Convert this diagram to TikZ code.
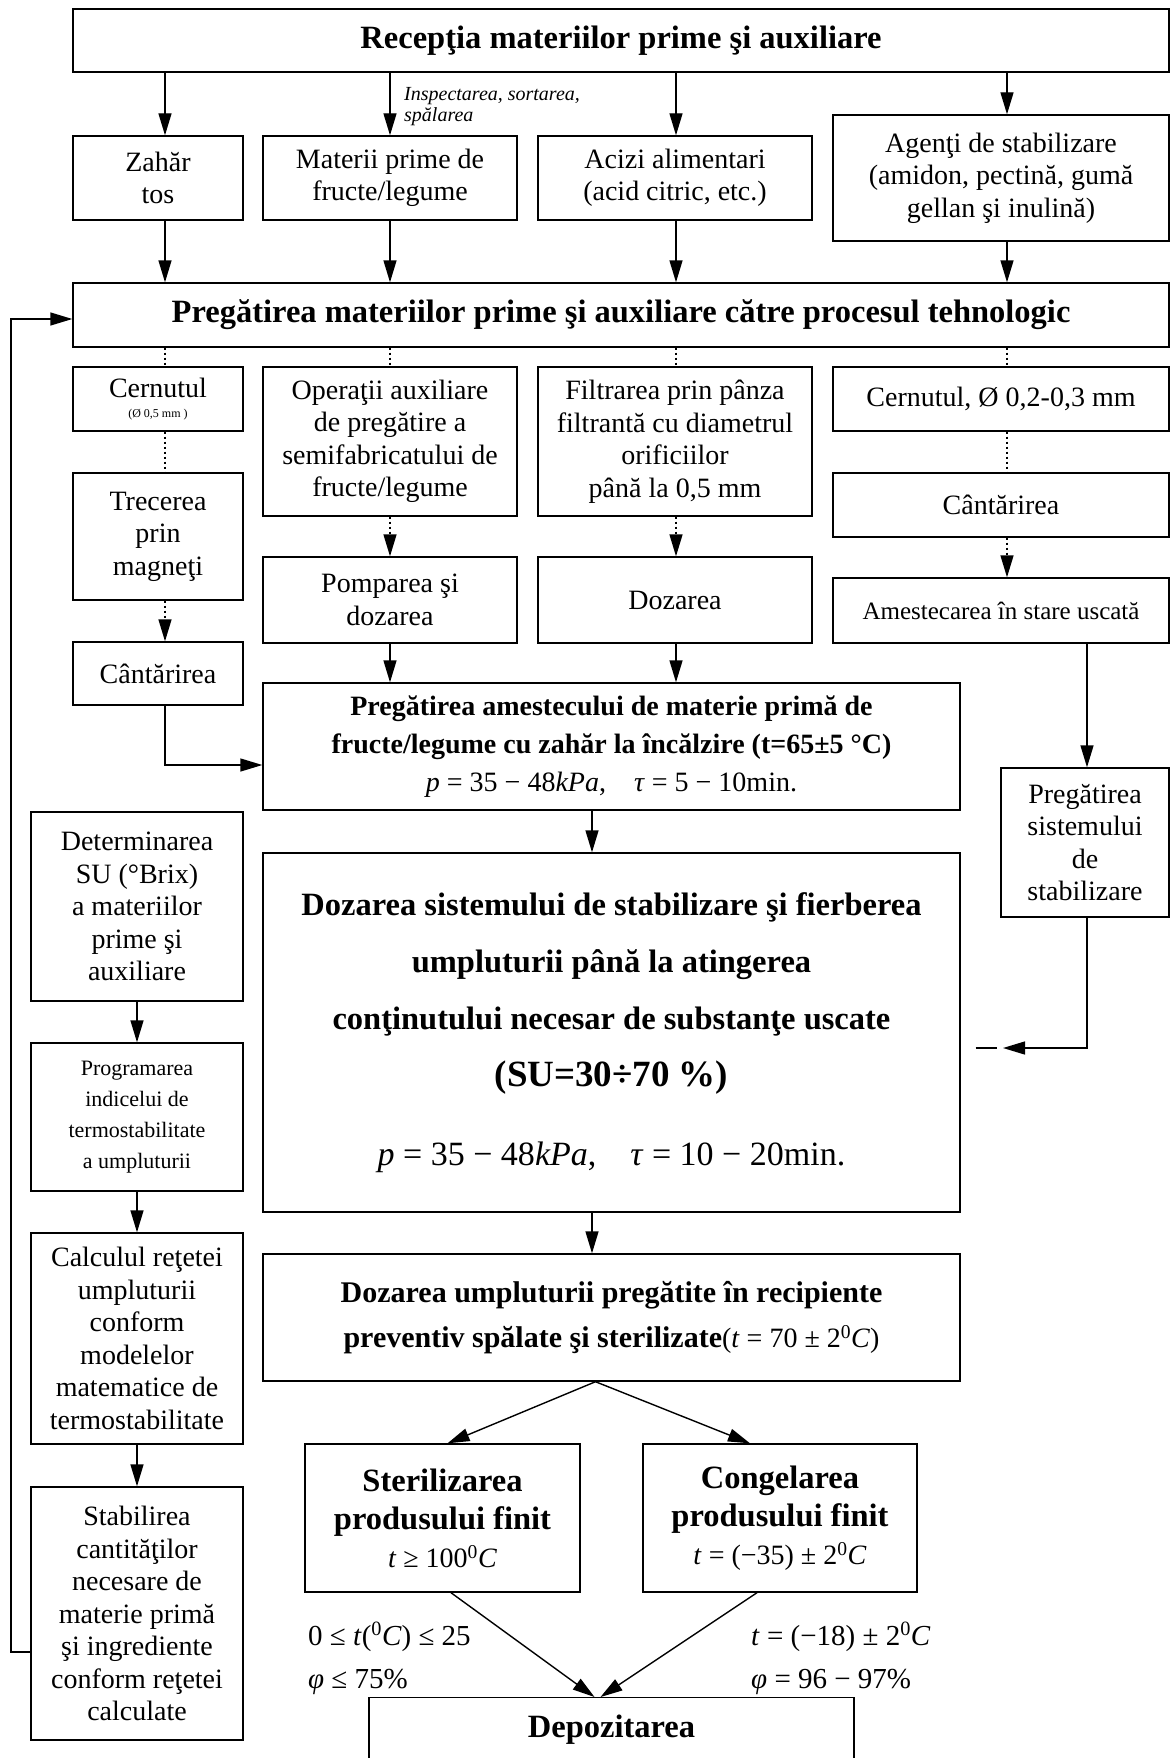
\documentclass[tikz,border=0pt]{standalone}
\usepackage{fontspec}
\setmainfont{Liberation Serif}
\usetikzlibrary{arrows.meta}
\newcommand\fsz[2]{\fontsize{#1}{#2}\selectfont}
\newcommand\itx[1]{\textit{#1}}
\begin{document}
\begin{tikzpicture}[x=1pt,y=-1pt,
  box/.style={draw, line width=1.4pt, align=center, inner sep=1pt, font={\fsz{28}{32.5}}},
  tip/.style={-{Triangle[length=22pt,width=13pt]}},
  arr/.style={line width=1.4pt, tip},
  ln/.style={line width=1.4pt},
  dotln/.style={line width=1.4pt, dash pattern=on 2pt off 3pt},
  lbl/.style={inner sep=0pt, anchor=base west, font={\fsz{29}{34}}},
]
\useasboundingbox (0,0) rectangle (1171,1758);
\fill[white] (0,0) rectangle (1171,1758);

% column coordinates
\coordinate (c0) at (137,0);
\coordinate (c1) at (165,0);
\coordinate (c2) at (390,0);
\coordinate (c3) at (676,0);
\coordinate (c4) at (1007,0);
\coordinate (c5) at (1087,0);
\coordinate (c6) at (592,0);

% boxes
\node[box, minimum width=1096pt, minimum height=63pt, font={\fsz{32.5}{38}\bfseries}] (rec) at (621,40.5) {Recepţia materiilor prime şi auxiliare};
\node[box, minimum width=170pt, minimum height=84pt] (zahar) at (158,178) {Zahăr\\tos};
\node[box, minimum width=254pt, minimum height=84pt] (mat) at (390,178) {Materii prime de\\fructe/legume};
\node[box, minimum width=274pt, minimum height=84pt] (acizi) at (675,178) {Acizi alimentari\\(acid citric, etc.)};
\node[box, minimum width=336pt, minimum height=126pt] (agenti) at (1001,178) {Agenţi de stabilizare\\(amidon, pectină, gumă\\gellan şi inulină)};
\node[inner sep=0pt, anchor=north west, align=left, font={\fsz{20}{21}\itshape}] (insp) at (404,87) {Inspectarea, sortarea,\\spălarea};

\node[box, minimum width=1096pt, minimum height=64pt, font={\fsz{32.5}{38}\bfseries}] (preg) at (621,315) {Pregătirea materiilor prime şi auxiliare către procesul tehnologic};

\node[box, minimum width=170pt, minimum height=64pt] (cern1) at (158,399) {Cernutul\\[-13pt]{\fsz{12}{14}(Ø 0,5 mm )}};
\node[box, minimum width=254pt, minimum height=149pt] (oper) at (390,441.5) {Operaţii auxiliare\\de pregătire a\\semifabricatului de\\fructe/legume};
\node[box, minimum width=274pt, minimum height=149pt] (filtr) at (675,441.5) {Filtrarea prin pânza\\filtrantă cu diametrul\\orificiilor\\până la 0,5 mm};
\node[box, minimum width=336pt, minimum height=64pt] (cern2) at (1001,399) {Cernutul, Ø 0,2-0,3 mm};

\node[box, minimum width=170pt, minimum height=127pt] (trec) at (158,536.5) {Trecerea\\prin\\magneţi};
\node[box, minimum width=170pt, minimum height=63pt] (cant1) at (158,673.5) {Cântărirea};
\node[box, minimum width=336pt, minimum height=64pt] (cant2) at (1001,505) {Cântărirea};
\node[box, minimum width=254pt, minimum height=86pt] (pomp) at (390,600) {Pomparea şi\\dozarea};
\node[box, minimum width=274pt, minimum height=86pt] (doz) at (675,600) {Dozarea};
\node[box, minimum width=336pt, minimum height=65pt, font={\fsz{25}{30}}] (amest) at (1001,610.5) {Amestecarea în stare uscată};

\node[box, minimum width=697pt, minimum height=127pt, font={\fsz{28}{38}}] (pregam) at (611.5,746.5) {\textbf{Pregătirea amestecului de materie primă de}\\\textbf{fructe/legume cu zahăr la încălzire (t=65±5 °C)}\\\itx{p} = 35 − 48\itx{kPa},\quad \itx{τ} = 5 − 10min.};
\node[box, minimum width=168pt, minimum height=149pt] (pregsis) at (1085,842.5) {Pregătirea\\sistemului\\de\\stabilizare};

\node[box, minimum width=212pt, minimum height=189pt] (determ) at (137,906.5) {Determinarea\\SU (°Brix)\\a materiilor\\prime şi\\auxiliare};
\node[box, minimum width=697pt, minimum height=359pt, font={\fsz{32.5}{57}\bfseries}] (dozsis) at (611.5,1032.5) {Dozarea sistemului de stabilizare şi fierberea\\umpluturii până la atingerea\\conţinutului necesar de substanţe uscate\\{\fsz{37}{57}(SU=30÷70 \%)}\\[22pt]{\mdseries\fsz{34}{57}\itx{p} = 35 − 48\itx{kPa},\quad \itx{τ} = 10 − 20min.}};
\node[box, minimum width=212pt, minimum height=148pt, font={\fsz{22}{31}}] (progr) at (137,1117) {Programarea\\indicelui de\\termostabilitate\\a umpluturii};
\node[box, minimum width=212pt, minimum height=211pt] (calc) at (137,1338.5) {Calculul reţetei\\umpluturii\\conform\\modelelor\\matematice de\\termostabilitate};
\node[box, minimum width=697pt, minimum height=127pt, font={\fsz{30}{45}\bfseries}] (dozump) at (611.5,1317.5) {Dozarea umpluturii pregătite în recipiente\\preventiv spălate şi sterilizate{\mdseries\fsz{28}{45}(\itx{t} = 70 ± 2\textsuperscript{0}\itx{C})}};
\node[box, minimum width=275pt, minimum height=148pt, font={\fsz{32.5}{38}\bfseries}] (steril) at (442.5,1518) {Sterilizarea\\produsului finit\\{\mdseries\fsz{28}{38}\itx{t} ≥ 100\textsuperscript{0}\itx{C}}};
\node[box, minimum width=274pt, minimum height=148pt, font={\fsz{32.5}{38}\bfseries}] (congel) at (780,1518) {Congelarea\\produsului finit\\{\mdseries\fsz{28}{38}\itx{t} = (−35) ± 2\textsuperscript{0}\itx{C}}};
\node[box, minimum width=212pt, minimum height=253pt] (stabil) at (137,1613.5) {Stabilirea\\cantităţilor\\necesare de\\materie primă\\şi ingrediente\\conform reţetei\\calculate};
\node[draw, line width=1.4pt, minimum width=485pt, minimum height=100pt, anchor=north,
  label={[anchor=center, yshift=-33pt, font={\fsz{32.5}{38}\bfseries}]north:Depozitarea}] (depoz) at (611.5,1697) {};

% labels
\node[lbl] (l1) at (308,1645) {0 ≤ \itx{t}(\textsuperscript{0}\itx{C}) ≤ 25};
\node[lbl] (l2) at (308,1688) {\itx{φ} ≤ 75\%};
\node[lbl] (l3) at (751,1645) {\itx{t} = (−18) ± 2\textsuperscript{0}\itx{C}};
\node[lbl] (l4) at (751,1688) {\itx{φ} = 96 − 97\%};

% top arrows
\foreach \n/\c in {zahar/c1, mat/c2, acizi/c3, agenti/c4}{
  \draw[arr] (rec.south -| \c) -- (\n.north -| \c);
  \draw[arr] (\n.south -| \c) -- (preg.north -| \c);
}
% dotted from preg
\draw[dotln] (preg.south -| c1) -- (cern1.north -| c1);
\draw[dotln] (preg.south -| c2) -- (oper.north -| c2);
\draw[dotln] (preg.south -| c3) -- (filtr.north -| c3);
\draw[dotln] (preg.south -| c4) -- (cern2.north -| c4);
\draw[dotln] (cern1.south -| c1) -- (trec.north -| c1);
\draw[dotln, tip] (trec.south -| c1) -- (cant1.north -| c1);
\draw[dotln, tip] (oper.south -| c2) -- (pomp.north -| c2);
\draw[dotln, tip] (filtr.south -| c3) -- (doz.north -| c3);
\draw[dotln] (cern2.south -| c4) -- (cant2.north -| c4);
\draw[dotln, tip] (cant2.south -| c4) -- (amest.north -| c4);

\draw[arr] (pomp.south -| c2) -- (pregam.north -| c2);
\draw[arr] (doz.south -| c3) -- (pregam.north -| c3);
\coordinate (k) at (165,765);
\draw[arr] (cant1.south -| k) -- (k) -- (k -| pregam.west);
\draw[arr] (amest.south -| c5) -- (pregsis.north -| c5);

\draw[arr] (pregam.south -| c6) -- (dozsis.north -| c6);
\draw[arr] (dozsis.south -| c6) -- (dozump.north -| c6);

\coordinate (m1) at (1087,1048);
\coordinate (m2) at (1003,1048);
\draw[arr] (pregsis.south -| m1) -- (m1) -- (m2);
\draw[ln, dash pattern=on 0pt off 15pt on 21pt off 60pt] (dozsis.east |- m2) -- (m2);

% left column
\draw[arr] (determ.south -| c0) -- (progr.north -| c0);
\draw[arr] (progr.south -| c0) -- (calc.north -| c0);
\draw[arr] (calc.south -| c0) -- (stabil.north -| c0);

% feedback
\coordinate (fb1) at (11,1652);
\coordinate (fb2) at (11,319);
\draw[arr] (stabil.west |- fb1) -- (fb1) -- (fb2) -- (fb2 -| preg.west);

% bottom
\draw[arr] ([xshift=-16pt]dozump.south) -- ([xshift=5pt]steril.north);
\draw[arr] ([xshift=-16pt]dozump.south) -- ([xshift=-30pt]congel.north);
\draw[arr] ([xshift=8.5pt]steril.south) -- ([xshift=-17pt]depoz.north);
\draw[arr] ([xshift=-23pt]congel.south) -- ([xshift=-11pt]depoz.north);
\end{tikzpicture}
\end{document}
